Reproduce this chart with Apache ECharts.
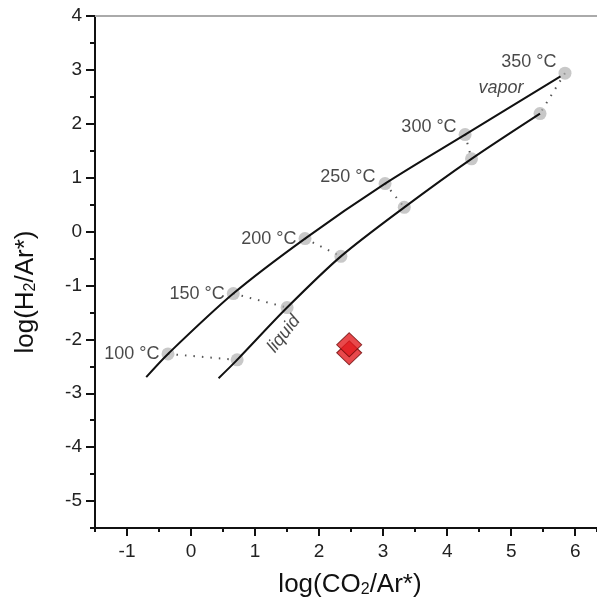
<!DOCTYPE html>
<html>
<head>
    <meta charset="utf-8">
    <title>ECharts</title>
    <script src="https://cdn.jsdelivr.net/npm/echarts@6/dist/echarts.min.js"></script>
    <style>
        html, body { margin: 0; padding: 0; background: #fff; }
    </style>
</head>
<body>
    <div id="main" style="width: 597px;height:608px;"></div>
    <script type="text/javascript">
        // temperatures of the model points
        var temps = ['100 °C', '150 °C', '200 °C', '250 °C', '300 °C', '350 °C'];
        // vapor and liquid model points (log CO2/Ar*, log H2/Ar*)
        var vaporX = [-0.36, 0.66, 1.78, 3.03, 4.28, 5.84];
        var vaporY = [-2.27, -1.15, -0.13, 0.89, 1.80, 2.94];
        var liquidX = [0.72, 1.50, 2.34, 3.33, 4.38, 5.45];
        var liquidY = [-2.38, -1.41, -0.46, 0.45, 1.35, 2.19];
        // curves
        var vaporCurveX = [-0.70, -0.36, 0.66, 1.78, 3.03, 4.28, 5.77];
        var vaporCurveY = [-2.70, -2.27, -1.15, -0.13, 0.89, 1.80, 2.88];
        var liquidCurveX = [0.43, 0.72, 1.50, 2.34, 3.33, 4.38, 5.45];
        var liquidCurveY = [-2.72, -2.38, -1.41, -0.46, 0.45, 1.35, 2.19];
        // samples (red diamonds)
        var sampleX = [2.47, 2.47];
        var sampleY = [-2.25, -2.10];
        // tick labels
        var xTicks = [-1, 0, 1, 2, 3, 4, 5, 6];
        var yTicks = [-5, -4, -3, -2, -1, 0, 1, 2, 3, 4];

        var zip = function (xs, ys) {
            return xs.map(function (x, i) { return [x, ys[i]]; });
        };

        // label offsets for the temperature text (styling only)
        var tempLabelOffset = [[0, 0], [0, 0], [0, 0], [-1, -7], [0, -8], [0, -11]];

        var myChart = echarts.init(document.getElementById('main'));
        var font = 'Liberation Sans, Arial, sans-serif';
        var ink = '#111';
        // the frame is cut off at the right edge of the picture
        var xMin = -1.5, xMax = 6.34;

        var nameRich = {
            n: { fontSize: 26, lineHeight: 30, verticalAlign: 'bottom', color: ink, fontFamily: font },
            s: { fontSize: 16, lineHeight: 16, verticalAlign: 'bottom', padding: [10, 0, 0, 0], color: ink, fontFamily: font }
        };

        var ties = temps.map(function (t, i) {
            return {
                type: 'line',
                data: [[vaporX[i], vaporY[i]], [liquidX[i], liquidY[i]]],
                symbol: 'none',
                lineStyle: { color: '#555', width: 2, type: [1.5, 7] },
                z: 1,
                silent: true
            };
        });

        var option = {
            animation: false,
            textStyle: { fontFamily: font },
            grid: { left: 95, top: 16, bottom: 80, right: 0 },
            xAxis: [{
                // main x axis: short ticks every 0.5, labels at integers
                type: 'value',
                min: xMin, max: xMax, interval: 0.5,
                name: '{n|log(CO}{s|2}{n|/Ar*)}',
                nameLocation: 'middle',
                nameGap: 40,
                nameTextStyle: { rich: nameRich, padding: [0, 0, 0, 8] },
                axisLine: { onZero: false, lineStyle: { color: ink, width: 2 } },
                axisTick: { inside: false, length: 4, lineStyle: { color: ink, width: 2 } },
                axisLabel: {
                    fontSize: 19, color: '#222', margin: 14,
                    customValues: xTicks
                },
                splitLine: { show: false }
            }, {
                // long integer ticks
                type: 'value',
                position: 'bottom',
                min: xMin, max: xMax,
                axisLine: { show: false, onZero: false },
                axisTick: { show: true, inside: false, length: 8, customValues: xTicks, lineStyle: { color: ink, width: 2 } },
                axisLabel: { show: false },
                splitLine: { show: false }
            }, {
                // top frame line
                type: 'value',
                position: 'top',
                min: xMin, max: xMax,
                axisLine: { show: true, onZero: false, lineStyle: { color: '#aaa', width: 2 } },
                axisTick: { show: false },
                axisLabel: { show: false },
                splitLine: { show: false }
            }],
            yAxis: [{
                type: 'value',
                min: -5.5, max: 4, interval: 0.5,
                name: '{n|log(H}{s|2}{n|/Ar*)}',
                nameLocation: 'middle',
                nameGap: 56,
                nameTextStyle: { rich: nameRich, padding: [0, 40, 0, 0] },
                axisLine: { show: true, onZero: false, lineStyle: { color: ink, width: 2 } },
                axisTick: { show: true, inside: false, length: 5, lineStyle: { color: ink, width: 2 } },
                axisLabel: {
                    fontSize: 19, color: '#222', margin: 13,
                    customValues: yTicks
                },
                splitLine: { show: false }
            }, {
                type: 'value',
                position: 'left',
                min: -5.5, max: 4,
                axisLine: { show: false, onZero: false },
                axisTick: { show: true, inside: false, length: 9, customValues: yTicks, lineStyle: { color: ink, width: 2 } },
                axisLabel: { show: false },
                splitLine: { show: false }
            }],
            series: ties.concat([{
                type: 'scatter',
                data: zip(vaporX, vaporY).map(function (p, i) {
                    return {
                        value: p,
                        label: { offset: tempLabelOffset[i] }
                    };
                }),
                symbolSize: 13,
                itemStyle: { color: 'rgba(175,175,175,0.85)' },
                label: {
                    show: true,
                    position: 'left',
                    distance: 2,
                    fontSize: 18,
                    color: '#1a1a1a',
                    formatter: function (p) { return temps[p.dataIndex]; }
                },
                z: 2
            }, {
                type: 'scatter',
                data: zip(liquidX, liquidY),
                symbolSize: 13,
                itemStyle: { color: 'rgba(175,175,175,0.85)' },
                z: 2
            }, {
                type: 'line',
                data: zip(vaporCurveX, vaporCurveY),
                smooth: 0.3,
                symbol: 'none',
                lineStyle: { color: ink, width: 2 },
                z: 3
            }, {
                type: 'line',
                data: zip(liquidCurveX, liquidCurveY),
                smooth: 0.3,
                symbol: 'none',
                lineStyle: { color: ink, width: 2 },
                z: 3
            }, {
                type: 'scatter',
                data: [
                    { value: [4.84, 2.66], label: { formatter: 'vapor', rotate: 0 } },
                    { value: [1.45, -1.90], label: { formatter: 'liquid', rotate: 52 } }
                ],
                symbolSize: 0,
                label: {
                    show: true,
                    position: 'inside',
                    fontSize: 18,
                    fontStyle: 'italic',
                    color: '#1a1a1a'
                },
                z: 4
            }, {
                type: 'scatter',
                data: zip(sampleX, sampleY),
                symbol: 'diamond',
                symbolSize: [25, 24],
                itemStyle: { color: '#e21c1f', borderColor: '#6e0808', borderWidth: 1 },
                z: 5
            }])
        };
        myChart.setOption(option);
    </script>
</body>
</html>
